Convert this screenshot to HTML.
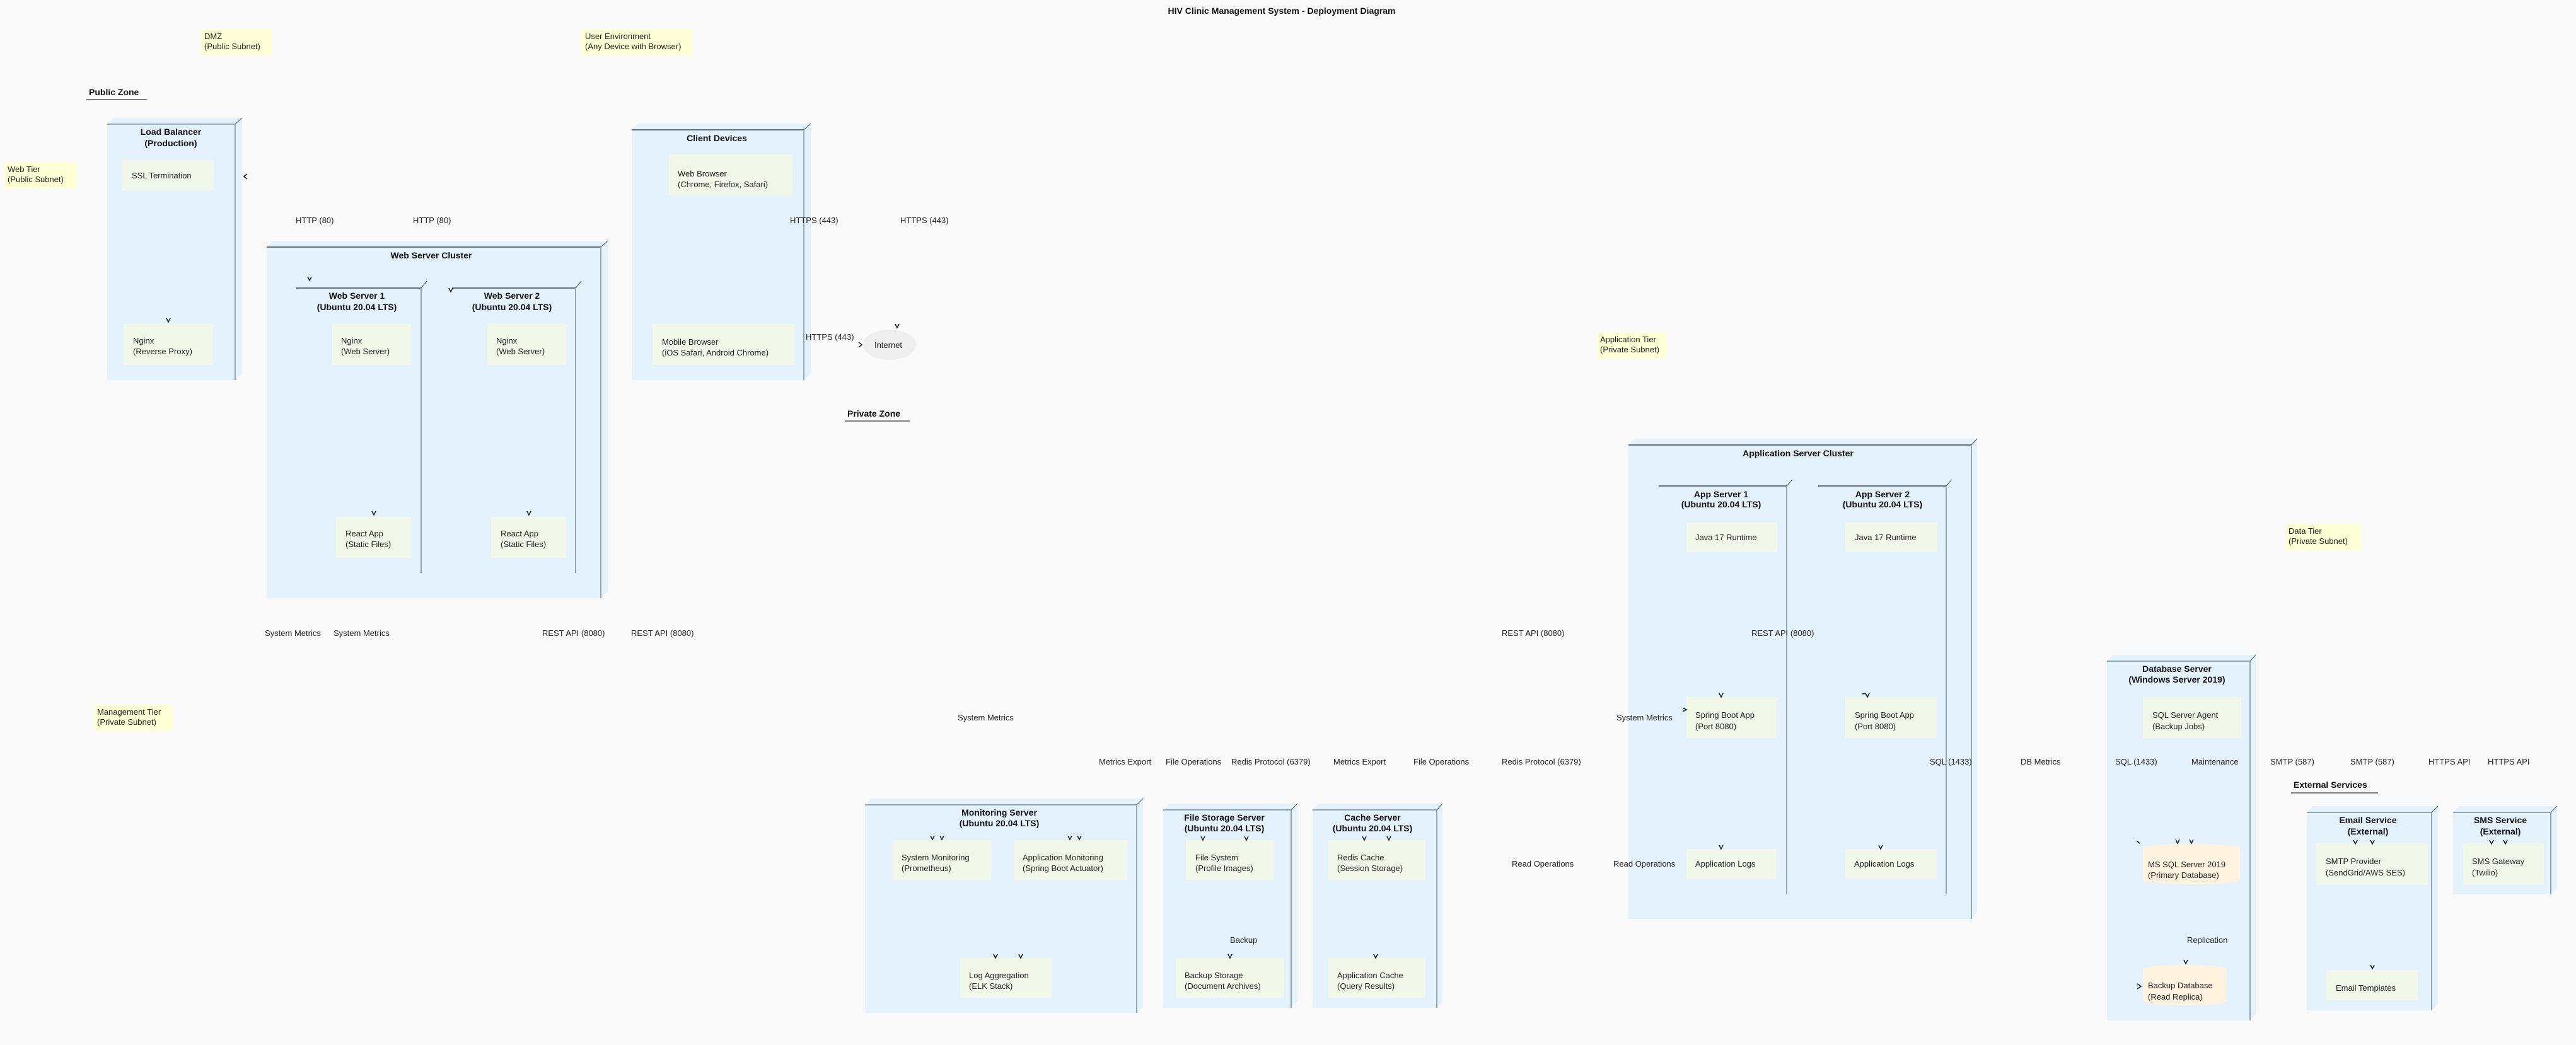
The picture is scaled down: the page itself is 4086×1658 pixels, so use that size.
<!DOCTYPE html>
<html><head><meta charset="utf-8"><style>
html,body{margin:0;padding:0;background:#fafafa;}
svg{display:block;font-family:"Liberation Sans",sans-serif;}
.t{font-size:13px;fill:#222;}
.b{font-size:14px;font-weight:bold;fill:#111;}
.c{fill:#f1f8e9;}
.n{fill:#e3f2fd;}
.note{fill:#ffffd6;}
.ar{fill:none;stroke:#222;stroke-width:1.6;}
</style></head><body>
<svg width="4086" height="1658" viewBox="0 0 4086 1658" xmlns="http://www.w3.org/2000/svg">
<rect width="4086" height="1658" fill="#fafafa"/>
<text x="2033" y="22" class="b" text-anchor="middle" font-size="13">HIV Clinic Management System - Deployment Diagram</text>

<!-- notes -->
<g>
<rect x="318" y="46" width="114" height="42" class="note"/><text x="324" y="62" class="t">DMZ</text><text x="324" y="78" class="t">(Public Subnet)</text>
<rect x="922" y="46" width="176" height="42" class="note"/><text x="928" y="62" class="t">User Environment</text><text x="928" y="78" class="t">(Any Device with Browser)</text>
<rect x="7" y="257" width="115" height="42" class="note"/><text x="12" y="273" class="t">Web Tier</text><text x="12" y="289" class="t">(Public Subnet)</text>
<rect x="2533" y="527" width="110" height="42" class="note"/><text x="2538" y="543" class="t">Application Tier</text><text x="2538" y="559" class="t">(Private Subnet)</text>
<rect x="3625" y="831" width="120" height="42" class="note"/><text x="3630" y="847" class="t">Data Tier</text><text x="3630" y="863" class="t">(Private Subnet)</text>
<rect x="149" y="1118" width="125" height="42" class="note"/><text x="154" y="1134" class="t">Management Tier</text><text x="154" y="1150" class="t">(Private Subnet)</text>
</g>

<!-- zone labels -->
<text x="141" y="151" class="b">Public Zone</text><line x1="137" y1="158" x2="233" y2="158" stroke="#555" stroke-width="1.5"/>
<text x="1344" y="661" class="b">Private Zone</text><line x1="1340" y1="668" x2="1443" y2="668" stroke="#555" stroke-width="1.5"/>
<text x="3638" y="1250" class="b">External Services</text><line x1="3634" y1="1258" x2="3772" y2="1258" stroke="#555" stroke-width="1.5"/>

<!-- outer nodes: x1,y1,x2,y2 -->
<g id="nodes">
<!-- Load Balancer 170,197,373,603 -->
<polygon class="n" points="170,197 180,187 384,187 373,197"/><polygon class="n" points="373,197 384,187 384,593 373,603"/><rect class="n" x="170" y="197" width="203" height="406"/>
<line x1="170" y1="197" x2="373" y2="197" stroke="#78909c" stroke-width="1.5"/><line x1="373" y1="197" x2="373" y2="603" stroke="#90a4ae" stroke-width="2"/><line x1="373" y1="197" x2="384" y2="187" stroke="#455a64"/>
<!-- Web Server Cluster 423,392,953,949 -->
<polygon class="n" points="423,392 433,382 964,382 953,392"/><polygon class="n" points="953,392 964,382 964,939 953,949"/><rect class="n" x="423" y="392" width="530" height="557"/>
<line x1="423" y1="392" x2="953" y2="392" stroke="#37474f" stroke-width="1.5"/><line x1="953" y1="392" x2="953" y2="949" stroke="#90a4ae" stroke-width="2"/><line x1="953" y1="392" x2="964" y2="382" stroke="#455a64"/>
<!-- Client Devices 1002,206,1275,603 -->
<polygon class="n" points="1002,206 1012,196 1286,196 1275,206"/><polygon class="n" points="1275,206 1286,196 1286,593 1275,603"/><rect class="n" x="1002" y="206" width="273" height="397"/>
<line x1="1002" y1="206" x2="1275" y2="206" stroke="#37474f" stroke-width="1.5"/><line x1="1275" y1="206" x2="1275" y2="603" stroke="#90a4ae" stroke-width="2"/><line x1="1275" y1="206" x2="1286" y2="196" stroke="#455a64"/>
<!-- App Server Cluster 2583,706,3127,1458 -->
<polygon class="n" points="2583,706 2593,696 3136,696 3127,706"/><polygon class="n" points="3127,706 3136,696 3136,1448 3127,1458"/><rect class="n" x="2583" y="706" width="544" height="752"/>
<line x1="2583" y1="706" x2="3127" y2="706" stroke="#37474f" stroke-width="1.5"/><line x1="3127" y1="706" x2="3127" y2="1458" stroke="#90a4ae" stroke-width="2"/><line x1="3127" y1="706" x2="3136" y2="696" stroke="#455a64"/>
<!-- Monitoring 1372,1277,1803,1607 -->
<polygon class="n" points="1372,1277 1382,1267 1813,1267 1803,1277"/><polygon class="n" points="1803,1277 1813,1267 1813,1597 1803,1607"/><rect class="n" x="1372" y="1277" width="431" height="330"/>
<line x1="1372" y1="1277" x2="1803" y2="1277" stroke="#78909c" stroke-width="1.5"/><line x1="1803" y1="1277" x2="1803" y2="1607" stroke="#90a4ae" stroke-width="2"/><line x1="1803" y1="1277" x2="1813" y2="1267" stroke="#455a64"/>
<!-- File Storage 1845,1285,2048,1599 -->
<polygon class="n" points="1845,1285 1855,1275 2058,1275 2048,1285"/><polygon class="n" points="2048,1285 2058,1275 2058,1589 2048,1599"/><rect class="n" x="1845" y="1285" width="203" height="314"/>
<line x1="1845" y1="1285" x2="2048" y2="1285" stroke="#78909c" stroke-width="1.5"/><line x1="2048" y1="1285" x2="2048" y2="1599" stroke="#90a4ae" stroke-width="2"/><line x1="2048" y1="1285" x2="2058" y2="1275" stroke="#455a64"/>
<!-- Cache 2082,1285,2279,1599 -->
<polygon class="n" points="2082,1285 2092,1275 2288,1275 2279,1285"/><polygon class="n" points="2279,1285 2288,1275 2288,1589 2279,1599"/><rect class="n" x="2082" y="1285" width="197" height="314"/>
<line x1="2082" y1="1285" x2="2279" y2="1285" stroke="#78909c" stroke-width="1.5"/><line x1="2279" y1="1285" x2="2279" y2="1599" stroke="#90a4ae" stroke-width="2"/><line x1="2279" y1="1285" x2="2288" y2="1275" stroke="#455a64"/>
<!-- DB Server 3342,1049,3569,1619 -->
<polygon class="n" points="3342,1049 3352,1039 3578,1039 3569,1049"/><polygon class="n" points="3569,1049 3578,1039 3578,1609 3569,1619"/><rect class="n" x="3342" y="1049" width="227" height="570"/>
<line x1="3342" y1="1049" x2="3569" y2="1049" stroke="#78909c" stroke-width="1.5"/><line x1="3569" y1="1049" x2="3569" y2="1619" stroke="#90a4ae" stroke-width="2"/><line x1="3569" y1="1049" x2="3578" y2="1039" stroke="#455a64"/>
<!-- Email 3659,1289,3857,1603 -->
<polygon class="n" points="3659,1289 3669,1279 3867,1279 3857,1289"/><polygon class="n" points="3857,1289 3867,1279 3867,1593 3857,1603"/><rect class="n" x="3659" y="1289" width="198" height="314"/>
<line x1="3659" y1="1289" x2="3857" y2="1289" stroke="#78909c" stroke-width="1.5"/><line x1="3857" y1="1289" x2="3857" y2="1603" stroke="#90a4ae" stroke-width="2"/><line x1="3857" y1="1289" x2="3867" y2="1279" stroke="#455a64"/>
<!-- SMS 3891,1289,4046,1419 -->
<polygon class="n" points="3891,1289 3901,1279 4056,1279 4046,1289"/><polygon class="n" points="4046,1289 4056,1279 4056,1409 4046,1419"/><rect class="n" x="3891" y="1289" width="155" height="130"/>
<line x1="3891" y1="1289" x2="4046" y2="1289" stroke="#78909c" stroke-width="1.5"/><line x1="4046" y1="1289" x2="4046" y2="1419" stroke="#90a4ae" stroke-width="2"/><line x1="4046" y1="1289" x2="4056" y2="1279" stroke="#455a64"/>
</g>

<!-- inner nodes -->
<g stroke-width="1.5">
<line x1="470" y1="457" x2="668" y2="457" stroke="#37474f"/><line x1="668" y1="457" x2="668" y2="909" stroke="#90a4ae" stroke-width="2"/><line x1="668" y1="457" x2="677" y2="446" stroke="#455a64" stroke-width="1"/>
<line x1="717" y1="457" x2="913" y2="457" stroke="#37474f"/><line x1="913" y1="457" x2="913" y2="909" stroke="#90a4ae" stroke-width="2"/><line x1="913" y1="457" x2="922" y2="446" stroke="#455a64" stroke-width="1"/>
<line x1="2631" y1="771" x2="2834" y2="771" stroke="#37474f"/><line x1="2834" y1="771" x2="2834" y2="1419" stroke="#90a4ae" stroke-width="2"/><line x1="2834" y1="771" x2="2843" y2="761" stroke="#455a64" stroke-width="1"/>
<line x1="2884" y1="771" x2="3087" y2="771" stroke="#37474f"/><line x1="3087" y1="771" x2="3087" y2="1419" stroke="#90a4ae" stroke-width="2"/><line x1="3087" y1="771" x2="3096" y2="761" stroke="#455a64" stroke-width="1"/>
</g>

<!-- node titles -->
<g class="b" text-anchor="middle">
<text x="271" y="214" class="b">Load Balancer</text><text x="271" y="232" class="b">(Production)</text>
<text x="684" y="410" class="b">Web Server Cluster</text>
<text x="566" y="474" class="b">Web Server 1</text><text x="566" y="492" class="b">(Ubuntu 20.04 LTS)</text>
<text x="812" y="474" class="b">Web Server 2</text><text x="812" y="492" class="b">(Ubuntu 20.04 LTS)</text>
<text x="1137" y="224" class="b">Client Devices</text>
<text x="2852" y="724" class="b">Application Server Cluster</text>
<text x="2730" y="789" class="b">App Server 1</text><text x="2730" y="805" class="b">(Ubuntu 20.04 LTS)</text>
<text x="2986" y="789" class="b">App Server 2</text><text x="2986" y="805" class="b">(Ubuntu 20.04 LTS)</text>
<text x="1585" y="1294" class="b">Monitoring Server</text><text x="1585" y="1311" class="b">(Ubuntu 20.04 LTS)</text>
<text x="1942" y="1302" class="b">File Storage Server</text><text x="1942" y="1319" class="b">(Ubuntu 20.04 LTS)</text>
<text x="2177" y="1302" class="b">Cache Server</text><text x="2177" y="1319" class="b">(Ubuntu 20.04 LTS)</text>
<text x="3453" y="1066" class="b">Database Server</text><text x="3453" y="1083" class="b">(Windows Server 2019)</text>
<text x="3756" y="1306" class="b">Email Service</text><text x="3756" y="1324" class="b">(External)</text>
<text x="3966" y="1306" class="b">SMS Service</text><text x="3966" y="1324" class="b">(External)</text>
</g>

<!-- components -->
<g>
<rect class="c" x="194" y="254" width="145" height="48"/><text x="209" y="283" class="t">SSL Termination</text>
<rect class="c" x="196" y="514" width="142" height="65"/><text x="211" y="545" class="t">Nginx</text><text x="211" y="562" class="t">(Reverse Proxy)</text>
<rect class="c" x="527" y="514" width="125" height="65"/><text x="541" y="545" class="t">Nginx</text><text x="541" y="562" class="t">(Web Server)</text>
<rect class="c" x="773" y="514" width="125" height="65"/><text x="787" y="545" class="t">Nginx</text><text x="787" y="562" class="t">(Web Server)</text>
<rect class="c" x="533" y="820" width="119" height="65"/><text x="548" y="851" class="t">React App</text><text x="548" y="868" class="t">(Static Files)</text>
<rect class="c" x="779" y="820" width="119" height="65"/><text x="794" y="851" class="t">React App</text><text x="794" y="868" class="t">(Static Files)</text>
<rect class="c" x="1061" y="245" width="196" height="65"/><text x="1075" y="280" class="t">Web Browser</text><text x="1075" y="297" class="t">(Chrome, Firefox, Safari)</text>
<rect class="c" x="1035" y="514" width="225" height="65"/><text x="1050" y="547" class="t">Mobile Browser</text><text x="1050" y="564" class="t">(iOS Safari, Android Chrome)</text>
<rect class="c" x="2675" y="829" width="144" height="47"/><text x="2689" y="857" class="t">Java 17 Runtime</text>
<rect class="c" x="2927" y="829" width="146" height="47"/><text x="2942" y="857" class="t">Java 17 Runtime</text>
<rect class="c" x="2675" y="1106" width="143" height="65"/><text x="2689" y="1139" class="t">Spring Boot App</text><text x="2689" y="1157" class="t">(Port 8080)</text>
<rect class="c" x="2927" y="1106" width="145" height="65"/><text x="2942" y="1139" class="t">Spring Boot App</text><text x="2942" y="1157" class="t">(Port 8080)</text>
<rect class="c" x="2675" y="1347" width="143" height="47"/><text x="2689" y="1375" class="t">Application Logs</text>
<rect class="c" x="2927" y="1347" width="145" height="47"/><text x="2941" y="1375" class="t">Application Logs</text>
<rect class="c" x="1416" y="1333" width="156" height="63"/><text x="1430" y="1365" class="t">System Monitoring</text><text x="1430" y="1382" class="t">(Prometheus)</text>
<rect class="c" x="1608" y="1333" width="180" height="63"/><text x="1622" y="1365" class="t">Application Monitoring</text><text x="1622" y="1382" class="t">(Spring Boot Actuator)</text>
<rect class="c" x="1523" y="1520" width="145" height="63"/><text x="1537" y="1552" class="t">Log Aggregation</text><text x="1537" y="1569" class="t">(ELK Stack)</text>
<rect class="c" x="1881" y="1333" width="139" height="63"/><text x="1896" y="1365" class="t">File System</text><text x="1896" y="1382" class="t">(Profile Images)</text>
<rect class="c" x="1865" y="1520" width="172" height="63"/><text x="1879" y="1552" class="t">Backup Storage</text><text x="1879" y="1569" class="t">(Document Archives)</text>
<rect class="c" x="2107" y="1333" width="154" height="63"/><text x="2121" y="1365" class="t">Redis Cache</text><text x="2121" y="1382" class="t">(Session Storage)</text>
<rect class="c" x="2107" y="1520" width="154" height="63"/><text x="2121" y="1552" class="t">Application Cache</text><text x="2121" y="1569" class="t">(Query Results)</text>
<rect class="c" x="3399" y="1106" width="156" height="65"/><text x="3414" y="1139" class="t">SQL Server Agent</text><text x="3414" y="1157" class="t">(Backup Jobs)</text>
<rect class="c" x="3674" y="1338" width="177" height="66"/><text x="3689" y="1371" class="t">SMTP Provider</text><text x="3689" y="1389" class="t">(SendGrid/AWS SES)</text>
<rect class="c" x="3690" y="1539" width="145" height="48"/><text x="3705" y="1572" class="t">Email Templates</text>
<rect class="c" x="3907" y="1338" width="128" height="66"/><text x="3921" y="1371" class="t">SMS Gateway</text><text x="3921" y="1389" class="t">(Twilio)</text>
<!-- cylinders -->
<rect x="3399" y="1346" width="154" height="50" fill="#fff3e0"/><ellipse cx="3476" cy="1346" rx="77" ry="7" fill="#fff3e0"/><ellipse cx="3476" cy="1396" rx="77" ry="7" fill="#fff3e0"/>
<text x="3407" y="1376" class="t">MS SQL Server 2019</text><text x="3407" y="1393" class="t">(Primary Database)</text>
<rect x="3399" y="1538" width="133" height="50" fill="#fff3e0"/><ellipse cx="3465" cy="1538" rx="66" ry="7" fill="#fff3e0"/><ellipse cx="3465" cy="1588" rx="66" ry="7" fill="#fff3e0"/>
<text x="3407" y="1568" class="t">Backup Database</text><text x="3407" y="1586" class="t">(Read Replica)</text>
<!-- internet cloud -->
<ellipse cx="1411" cy="547" rx="42" ry="24" fill="#eeeeee"/>
<text x="1409" y="552" class="t" text-anchor="middle">Internet</text>
</g>

<!-- connector labels -->
<g class="t">
<text x="469" y="354">HTTP (80)</text><text x="655" y="354">HTTP (80)</text>
<text x="1253" y="354">HTTPS (443)</text><text x="1428" y="354">HTTPS (443)</text>
<text x="1278" y="539">HTTPS (443)</text>
<text x="420" y="1009">System Metrics</text><text x="529" y="1009">System Metrics</text>
<text x="860" y="1009">REST API (8080)</text><text x="1001" y="1009">REST API (8080)</text>
<text x="2382" y="1009">REST API (8080)</text><text x="2778" y="1009">REST API (8080)</text>
<text x="1519" y="1143">System Metrics</text><text x="2564" y="1143">System Metrics</text>
<text x="1743" y="1213">Metrics Export</text><text x="1849" y="1213">File Operations</text><text x="1953" y="1213">Redis Protocol (6379)</text>
<text x="2115" y="1213">Metrics Export</text><text x="2242" y="1213">File Operations</text><text x="2382" y="1213">Redis Protocol (6379)</text>
<text x="3061" y="1213">SQL (1433)</text><text x="3205" y="1213">DB Metrics</text><text x="3355" y="1213">SQL (1433)</text><text x="3476" y="1213">Maintenance</text>
<text x="3601" y="1213">SMTP (587)</text><text x="3728" y="1213">SMTP (587)</text><text x="3852" y="1213">HTTPS API</text><text x="3946" y="1213">HTTPS API</text>
<text x="2398" y="1375">Read Operations</text><text x="2559" y="1375">Read Operations</text>
<text x="1951" y="1496">Backup</text><text x="3469" y="1496">Replication</text>
</g>

<!-- arrowheads (chevrons) -->
<g class="ar">
<path d="M264,505 l3,6 l3,-6"/><path d="M488,439 l3,6 l3,-6"/><path d="M712,457 l3,6 l3,-6"/>
<path d="M590,811 l3,6 l3,-6"/><path d="M836,811 l3,6 l3,-6"/>
<path d="M392,276 l-5,4 l5,4"/><path d="M1362,543 l5,4 l-5,4"/><path d="M1420,514 l3,6 l3,-6"/>
<path d="M2727,1100 l3,6 l3,-6"/><path d="M2959,1100 l3,6 l3,-6"/><path d="M2960,1100 l-6,1"/><path d="M2669,1123 l6,3 l-6,3"/>
<path d="M2727,1341 l3,6 l3,-6"/><path d="M2980,1341 l3,6 l3,-6"/>
<path d="M1476,1326 l3,6 l3,-6"/><path d="M1491,1326 l3,6 l3,-6"/><path d="M1694,1326 l3,6 l3,-6"/><path d="M1709,1326 l3,6 l3,-6"/>
<path d="M1576,1514 l3,6 l3,-6"/><path d="M1616,1514 l3,6 l3,-6"/>
<path d="M1905,1327 l3,6 l3,-6"/><path d="M1974,1327 l3,6 l3,-6"/><path d="M1948,1514 l3,6 l3,-6"/>
<path d="M2161,1327 l3,6 l3,-6"/><path d="M2200,1327 l3,6 l3,-6"/><path d="M2179,1514 l3,6 l3,-6"/>
<path d="M3389,1334 l5,4"/><path d="M3451,1332 l3,6 l3,-6"/><path d="M3473,1332 l3,6 l3,-6"/><path d="M3464,1523 l3,6 l3,-6"/><path d="M3390,1561 l6,4 l-6,4"/>
<path d="M3733,1333 l3,6 l3,-6"/><path d="M3760,1333 l3,6 l3,-6"/><path d="M3760,1531 l3,6 l3,-6"/>
<path d="M3949,1333 l3,6 l3,-6"/><path d="M3971,1333 l3,6 l3,-6"/>
</g>
</svg>
</body></html>
